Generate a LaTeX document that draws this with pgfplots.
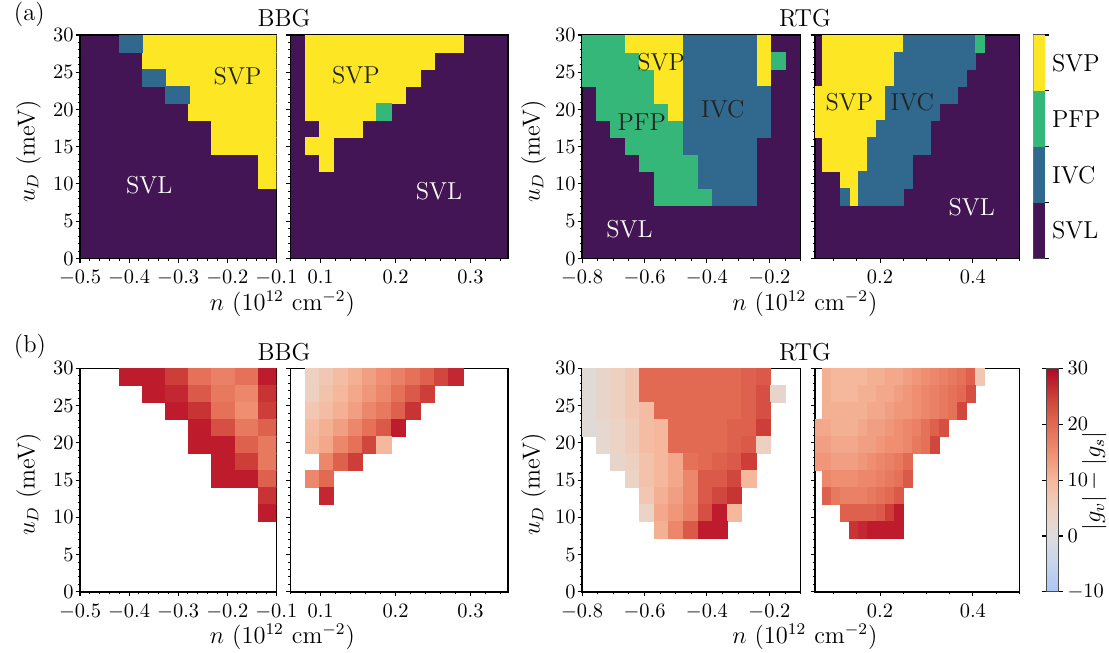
\documentclass[border=0pt]{standalone}
\usepackage{fontspec}
\usepackage{pgfplots}
\pgfplotsset{compat=1.18}

\definecolor{svl}{RGB}{68,21,84}
\definecolor{ivc}{HTML}{31688E}
\definecolor{pfp}{HTML}{35B779}
\definecolor{svp}{HTML}{FDE725}
\definecolor{txt}{HTML}{222222}

\newcommand{\lab}{\fontsize{12}{14}\selectfont}
\newcommand{\tck}{\fontsize{10}{12}\selectfont}

\pgfplotsset{
  colormap={cw}{rgb255=(172,198,245) rgb255=(198,212,238) rgb255=(221,221,221)
    rgb255=(238,208,192) rgb255=(245,184,156) rgb255=(239,142,113)
    rgb255=(226,106,83) rgb255=(205,62,56) rgb255=(180,4,38)},
  panel/.style={
    anchor=north west, scale only axis, height=109.5pt,
    ymin=0, ymax=30, ytick={0,5,...,30}, minor ytick={0,1,...,30},
    tick align=outside, tick pos=left,
    major tick length=2.2pt, minor tick length=1.2pt,
    every tick/.append style={line width=0.5pt, black},
    axis line style={line width=0.7pt},
    tick label style={font=\tck, inner sep=0.5pt},
    xticklabel style={yshift=-3.0pt},
    yticklabel style={xshift=-0.3pt},
    clip marker paths=true,
  },
  phase/.style={panel, axis background/.style={fill=svl}},
  gap/.style={panel, colormap name=cw, point meta min=-10, point meta max=30},
  bl/.style={xmin=-0.5, xmax=-0.1, width=96.2pt,
    xtick={-0.5,-0.4,-0.3,-0.2,-0.1}, minor xtick={-0.5,-0.48,...,-0.1}},
  br/.style={xmin=0.06, xmax=0.35, width=106.5pt, yticklabels={},
    xtick={0.1,0.2,0.3}, minor xtick={0.06,0.08,...,0.35}},
  rl/.style={xmin=-0.8, xmax=-0.1, width=107.1pt,
    xtick={-0.8,-0.6,-0.4,-0.2}, minor xtick={-0.8,-0.75,...,-0.1}},
  rr/.style={xmin=0.06, xmax=0.5, width=100.1pt, yticklabels={},
    xtick={0.2,0.4}, minor xtick={0.1,0.15,...,0.5}},
  cell/.style={only marks, mark=square*, mark size=4.161pt,
    mark options={xscale=#1, line width=0.25pt}},
  vcell/.style={cell=#1, scatter, point meta=explicit,
    scatter/use mapped color={draw=mapped color, fill=mapped color}},
}

\begin{document}
\begin{tikzpicture}
\useasboundingbox (0,0) rectangle (543.4pt,-319.5pt);

% ---------------- (a) BBG, n<0
\begin{axis}[phase, bl, at={(39.2pt,-17.15pt)}]
\addplot[cell=1.364, color=svp] coordinates {
(-0.350,28.86) (-0.302,28.86) (-0.255,28.86) (-0.208,28.86) (-0.161,28.86) (-0.114,28.86)
(-0.350,26.58) (-0.302,26.58) (-0.255,26.58) (-0.208,26.58) (-0.161,26.58) (-0.114,26.58)
(-0.302,24.30) (-0.255,24.30) (-0.208,24.30) (-0.161,24.30) (-0.114,24.30)
(-0.255,22.02) (-0.208,22.02) (-0.161,22.02) (-0.114,22.02)
(-0.255,19.74) (-0.208,19.74) (-0.161,19.74) (-0.114,19.74)
(-0.208,17.46) (-0.161,17.46) (-0.114,17.46)
(-0.208,15.18) (-0.161,15.18) (-0.114,15.18)
(-0.114,12.90) (-0.114,10.62)};
\addplot[cell=1.364, color=ivc] coordinates {
(-0.397,28.86) (-0.350,24.30) (-0.302,22.02)};
\node[font=\lab, text=txt] at (axis cs:-0.179,24.5) {SVP};
\node[font=\lab, text=white] at (axis cs:-0.359,9.8) {SVL};
\end{axis}

% ---------------- (a) BBG, n>0
\begin{axis}[phase, br, at={(142.4pt,-17.15pt)}]
\addplot[cell=0.847, color=svp] coordinates {
(0.0885,28.86) (0.1077,28.86) (0.1269,28.86) (0.1461,28.86) (0.1653,28.86) (0.1845,28.86)
(0.2037,28.86) (0.2229,28.86) (0.2421,28.86) (0.2613,28.86) (0.2805,28.86)
(0.0885,26.58) (0.1077,26.58) (0.1269,26.58) (0.1461,26.58) (0.1653,26.58) (0.1845,26.58)
(0.2037,26.58) (0.2229,26.58) (0.2421,26.58)
(0.0885,24.30) (0.1077,24.30) (0.1269,24.30) (0.1461,24.30) (0.1653,24.30) (0.1845,24.30)
(0.2037,24.30) (0.2229,24.30)
(0.0885,22.02) (0.1077,22.02) (0.1269,22.02) (0.1461,22.02) (0.1653,22.02) (0.1845,22.02)
(0.2037,22.02)
(0.0885,19.74) (0.1077,19.74) (0.1269,19.74) (0.1461,19.74) (0.1653,19.74)
(0.1077,17.46) (0.1269,17.46) (0.1461,17.46)
(0.0885,15.18) (0.1077,15.18)
(0.1077,12.90)};
\addplot[cell=0.847, color=pfp] coordinates {(0.1845,19.74)};
\node[font=\lab, text=txt] at (axis cs:0.147,24.6) {SVP};
\node[font=\lab, text=white] at (axis cs:0.258,9.0) {SVL};
\end{axis}

% ---------------- (a) RTG, n<0
\begin{axis}[phase, rl, at={(285.2pt,-17.15pt)}]
\addplot[cell=0.857, color=pfp] coordinates {
(-0.7787,28.86) (-0.7321,28.86) (-0.6855,28.86)
(-0.7787,26.58) (-0.7321,26.58) (-0.6855,26.58) (-0.6389,26.58) (-0.1729,26.58)
(-0.7787,24.30) (-0.7321,24.30) (-0.6855,24.30) (-0.6389,24.30) (-0.5923,24.30)
(-0.7321,22.02) (-0.6855,22.02) (-0.6389,22.02) (-0.5923,22.02)
(-0.7321,19.74) (-0.6855,19.74) (-0.6389,19.74) (-0.5923,19.74) (-0.5457,19.74)
(-0.6855,17.46) (-0.6389,17.46) (-0.5923,17.46) (-0.5457,17.46) (-0.4991,17.46)
(-0.6389,15.18) (-0.5923,15.18) (-0.5457,15.18) (-0.4991,15.18)
(-0.5923,12.90) (-0.5457,12.90) (-0.4991,12.90) (-0.4525,12.90)
(-0.5457,10.62) (-0.4991,10.62) (-0.4525,10.62)
(-0.5457,8.34) (-0.4991,8.34) (-0.4525,8.34) (-0.4059,8.34)};
\addplot[cell=0.857, color=svp] coordinates {
(-0.6389,28.86) (-0.5923,28.86) (-0.5457,28.86) (-0.4991,28.86) (-0.2195,28.86)
(-0.5923,26.58) (-0.5457,26.58) (-0.4991,26.58) (-0.2195,26.58)
(-0.5457,24.30) (-0.4991,24.30) (-0.2195,24.30)
(-0.5457,22.02) (-0.4991,22.02)
(-0.4991,19.74)};
\addplot[cell=0.857, color=ivc] coordinates {
(-0.4525,28.86) (-0.4059,28.86) (-0.3593,28.86) (-0.3127,28.86) (-0.2661,28.86)
(-0.4525,26.58) (-0.4059,26.58) (-0.3593,26.58) (-0.3127,26.58) (-0.2661,26.58)
(-0.4525,24.30) (-0.4059,24.30) (-0.3593,24.30) (-0.3127,24.30) (-0.2661,24.30)
(-0.4525,22.02) (-0.4059,22.02) (-0.3593,22.02) (-0.3127,22.02) (-0.2661,22.02) (-0.2195,22.02)
(-0.4525,19.74) (-0.4059,19.74) (-0.3593,19.74) (-0.3127,19.74) (-0.2661,19.74) (-0.2195,19.74)
(-0.4525,17.46) (-0.4059,17.46) (-0.3593,17.46) (-0.3127,17.46) (-0.2661,17.46) (-0.2195,17.46)
(-0.4525,15.18) (-0.4059,15.18) (-0.3593,15.18) (-0.3127,15.18) (-0.2661,15.18)
(-0.4059,12.90) (-0.3593,12.90) (-0.3127,12.90) (-0.2661,12.90)
(-0.4059,10.62) (-0.3593,10.62) (-0.3127,10.62) (-0.2661,10.62)
(-0.3593,8.34) (-0.3127,8.34) (-0.2661,8.34)};
\node[font=\lab, text=txt] at (axis cs:-0.547,26.4) {SVP};
\node[font=\lab, text=txt] at (axis cs:-0.609,18.25) {PFP};
\node[font=\lab, text=txt] at (axis cs:-0.349,20.1) {IVC};
\node[font=\lab, text=white] at (axis cs:-0.648,3.9) {SVL};
\end{axis}

% ---------------- (a) RTG, n>0
\begin{axis}[phase, rr, at={(399.35pt,-17.15pt)}]
\addplot[cell=0.528, color=svp] coordinates {
(0.0860,28.86) (0.1053,28.86) (0.1246,28.86) (0.1439,28.86) (0.1632,28.86) (0.1825,28.86)
(0.2018,28.86) (0.2211,28.86) (0.2404,28.86)
(0.0860,26.58) (0.1053,26.58) (0.1246,26.58) (0.1439,26.58) (0.1632,26.58) (0.1825,26.58)
(0.2018,26.58) (0.2211,26.58)
(0.0860,24.30) (0.1053,24.30) (0.1246,24.30) (0.1439,24.30) (0.1632,24.30) (0.1825,24.30)
(0.2018,24.30) (0.2211,24.30)
(0.0667,22.02) (0.0860,22.02) (0.1053,22.02) (0.1246,22.02) (0.1439,22.02) (0.1632,22.02)
(0.1825,22.02) (0.2018,22.02)
(0.0667,19.74) (0.0860,19.74) (0.1053,19.74) (0.1246,19.74) (0.1439,19.74) (0.1632,19.74)
(0.1825,19.74) (0.2018,19.74)
(0.0667,17.46) (0.0860,17.46) (0.1053,17.46) (0.1246,17.46) (0.1439,17.46) (0.1632,17.46)
(0.1825,17.46)
(0.0860,15.18) (0.1053,15.18) (0.1246,15.18) (0.1439,15.18) (0.1632,15.18)
(0.0860,12.90) (0.1053,12.90) (0.1246,12.90) (0.1439,12.90) (0.1632,12.90)
(0.1246,10.62) (0.1439,10.62)
(0.1439,8.34)};
\addplot[cell=0.528, color=ivc] coordinates {
(0.2597,28.86) (0.2790,28.86) (0.2983,28.86) (0.3176,28.86) (0.3369,28.86) (0.3562,28.86)
(0.3755,28.86) (0.3948,28.86)
(0.2404,26.58) (0.2597,26.58) (0.2790,26.58) (0.2983,26.58) (0.3176,26.58) (0.3369,26.58)
(0.3562,26.58) (0.3755,26.58) (0.3948,26.58)
(0.2404,24.30) (0.2597,24.30) (0.2790,24.30) (0.2983,24.30) (0.3176,24.30) (0.3369,24.30)
(0.3562,24.30) (0.3755,24.30)
(0.2211,22.02) (0.2404,22.02) (0.2597,22.02) (0.2790,22.02) (0.2983,22.02) (0.3176,22.02)
(0.3369,22.02) (0.3562,22.02)
(0.2211,19.74) (0.2404,19.74) (0.2597,19.74) (0.2790,19.74) (0.2983,19.74) (0.3176,19.74)
(0.2018,17.46) (0.2211,17.46) (0.2404,17.46) (0.2597,17.46) (0.2790,17.46) (0.2983,17.46)
(0.1825,15.18) (0.2018,15.18) (0.2211,15.18) (0.2404,15.18) (0.2597,15.18) (0.2790,15.18)
(0.2983,15.18)
(0.1825,12.90) (0.2018,12.90) (0.2211,12.90) (0.2404,12.90) (0.2597,12.90)
(0.1632,10.62) (0.1825,10.62) (0.2018,10.62) (0.2211,10.62) (0.2404,10.62) (0.2597,10.62)
(0.1246,8.34) (0.1632,8.34) (0.1825,8.34) (0.2018,8.34) (0.2211,8.34) (0.2404,8.34)};
\addplot[cell=0.528, color=pfp] coordinates {(0.4141,28.86)};
\node[font=\lab, text=txt] at (axis cs:0.134,21.0) {SVP};
\node[font=\lab, text=txt] at (axis cs:0.2696,21.0) {IVC};
\node[font=\lab, text=white] at (axis cs:0.3975,6.9) {SVL};
\end{axis}

% ---------------- (a) colour key
\begin{axis}[at={(506.3pt,-17.15pt)}, anchor=north west, scale only axis,
  width=5.7pt, height=109.5pt, xmin=0, xmax=1, ymin=0, ymax=4,
  xtick=\empty, ytick={0,1,2,3,4}, yticklabels={},
  extra y ticks={0.5,1.5,2.5,3.5}, extra y tick labels={SVL,IVC,PFP,SVP},
  extra y tick style={major tick length=0pt},
  ytick pos=right, yticklabel pos=right, tick align=outside,
  major tick length=2.2pt, every tick/.append style={line width=0.5pt, black},
  tick label style={font=\lab},
  axis line style={line width=0.5pt, black!70}]
\addplot[fill=svp, draw=none] coordinates {(0,4) (1,4)} \closedcycle;
\addplot[fill=pfp, draw=none] coordinates {(0,3) (1,3)} \closedcycle;
\addplot[fill=ivc, draw=none] coordinates {(0,2) (1,2)} \closedcycle;
\addplot[fill=svl, draw=none] coordinates {(0,1) (1,1)} \closedcycle;
\end{axis}

% ---------------- (b) BBG, n<0
\begin{axis}[gap, bl, at={(39.2pt,-180.5pt)}]
\addplot[vcell=1.364] coordinates {
(-0.397,28.86)[28] (-0.350,28.86)[28] (-0.302,28.86)[25] (-0.255,28.86)[19]
(-0.208,28.86)[17] (-0.161,28.86)[19] (-0.114,28.86)[28]
(-0.350,26.58)[28] (-0.302,26.58)[27] (-0.255,26.58)[22] (-0.208,26.58)[18]
(-0.161,26.58)[16] (-0.114,26.58)[26]
(-0.302,24.30)[28] (-0.255,24.30)[26] (-0.208,24.30)[19] (-0.161,24.30)[15] (-0.114,24.30)[25]
(-0.255,22.02)[28] (-0.208,22.02)[23] (-0.161,22.02)[18] (-0.114,22.02)[21]
(-0.255,19.74)[28] (-0.208,19.74)[28] (-0.161,19.74)[21] (-0.114,19.74)[18]
(-0.208,17.46)[28] (-0.161,17.46)[25] (-0.114,17.46)[18]
(-0.208,15.18)[28] (-0.161,15.18)[28] (-0.114,15.18)[21]
(-0.114,12.90)[26] (-0.114,10.62)[28]};
\end{axis}

% ---------------- (b) BBG, n>0
\begin{axis}[gap, br, at={(142.4pt,-180.5pt)}]
\addplot[vcell=0.847] coordinates {
(0.0885,28.86)[5] (0.1077,28.86)[7] (0.1269,28.86)[9] (0.1461,28.86)[11] (0.1653,28.86)[13]
(0.1845,28.86)[15] (0.2037,28.86)[17] (0.2229,28.86)[19] (0.2421,28.86)[21] (0.2613,28.86)[24]
(0.2805,28.86)[27]
(0.0885,26.58)[5] (0.1077,26.58)[8] (0.1269,26.58)[10] (0.1461,26.58)[12] (0.1653,26.58)[14]
(0.1845,26.58)[16] (0.2037,26.58)[19] (0.2229,26.58)[22] (0.2421,26.58)[25]
(0.0885,24.30)[7] (0.1077,24.30)[9] (0.1269,24.30)[11] (0.1461,24.30)[13] (0.1653,24.30)[16]
(0.1845,24.30)[18] (0.2037,24.30)[21] (0.2229,24.30)[26]
(0.0885,22.02)[9] (0.1077,22.02)[11] (0.1269,22.02)[13] (0.1461,22.02)[16] (0.1653,22.02)[19]
(0.1845,22.02)[22] (0.2037,22.02)[28]
(0.0885,19.74)[10] (0.1077,19.74)[12] (0.1269,19.74)[16] (0.1461,19.74)[19] (0.1653,19.74)[24]
(0.1845,19.74)[10]
(0.1077,17.46)[16] (0.1269,17.46)[21] (0.1461,17.46)[25]
(0.0885,15.18)[16] (0.1077,15.18)[20]
(0.1077,12.90)[27]};
\end{axis}

% ---------------- (b) RTG, n<0
\begin{axis}[gap, rl, at={(285.2pt,-180.5pt)}]
\addplot[vcell=0.857] coordinates {
(-0.7787,28.86)[1] (-0.7321,28.86)[3] (-0.6855,28.86)[5] (-0.6389,28.86)[7] (-0.5923,28.86)[20]
(-0.5457,28.86)[20] (-0.4991,28.86)[20] (-0.4525,28.86)[20] (-0.4059,28.86)[20] (-0.3593,28.86)[20]
(-0.3127,28.86)[20] (-0.2661,28.86)[21] (-0.2195,28.86)[22]
(-0.7787,26.58)[1] (-0.7321,26.58)[3] (-0.6855,26.58)[5] (-0.6389,26.58)[7] (-0.5923,26.58)[20]
(-0.5457,26.58)[20] (-0.4991,26.58)[20] (-0.4525,26.58)[20] (-0.4059,26.58)[20] (-0.3593,26.58)[20]
(-0.3127,26.58)[20] (-0.2661,26.58)[21] (-0.2195,26.58)[23] (-0.1729,26.58)[3]
(-0.7787,24.30)[1] (-0.7321,24.30)[3] (-0.6855,24.30)[5] (-0.6389,24.30)[7] (-0.5923,24.30)[9]
(-0.5457,24.30)[20] (-0.4991,24.30)[20] (-0.4525,24.30)[20] (-0.4059,24.30)[20] (-0.3593,24.30)[20]
(-0.3127,24.30)[20] (-0.2661,24.30)[21] (-0.2195,24.30)[23]
(-0.7787,22.02)[1] (-0.7321,22.02)[2] (-0.6855,22.02)[4] (-0.6389,22.02)[6] (-0.5923,22.02)[9]
(-0.5457,22.02)[10] (-0.4991,22.02)[20] (-0.4525,22.02)[20] (-0.4059,22.02)[20] (-0.3593,22.02)[20]
(-0.3127,22.02)[21] (-0.2661,22.02)[21] (-0.2195,22.02)[25]
(-0.7321,19.74)[2] (-0.6855,19.74)[4] (-0.6389,19.74)[6] (-0.5923,19.74)[9] (-0.5457,19.74)[10]
(-0.4991,19.74)[20] (-0.4525,19.74)[20] (-0.4059,19.74)[20] (-0.3593,19.74)[20] (-0.3127,19.74)[21]
(-0.2661,19.74)[22] (-0.2195,19.74)[5]
(-0.6855,17.46)[3] (-0.6389,17.46)[5] (-0.5923,17.46)[8] (-0.5457,17.46)[10] (-0.4991,17.46)[12]
(-0.4525,17.46)[19] (-0.4059,17.46)[20] (-0.3593,17.46)[21] (-0.3127,17.46)[22] (-0.2661,17.46)[25]
(-0.6389,15.18)[4] (-0.5923,15.18)[8] (-0.5457,15.18)[10] (-0.4991,15.18)[12] (-0.4525,15.18)[16]
(-0.4059,15.18)[22] (-0.3593,15.18)[22] (-0.3127,15.18)[24] (-0.2661,15.18)[10]
(-0.5923,12.90)[7] (-0.5457,12.90)[11] (-0.4991,12.90)[13] (-0.4525,12.90)[16] (-0.4059,12.90)[22]
(-0.3593,12.90)[24] (-0.3127,12.90)[26]
(-0.5923,10.62)[4] (-0.5457,10.62)[12] (-0.4991,10.62)[14] (-0.4525,10.62)[17] (-0.4059,10.62)[23]
(-0.3593,10.62)[28] (-0.3127,10.62)[10]
(-0.5457,8.34)[11] (-0.4991,8.34)[16] (-0.4525,8.34)[22] (-0.4059,8.34)[28] (-0.3593,8.34)[28]};
\end{axis}

% ---------------- (b) RTG, n>0
\begin{axis}[gap, rr, at={(399.35pt,-180.5pt)},
  colorbar,
  colorbar style={at={(parent axis.north east)}, anchor=north west, xshift=4.9pt,
    scale only axis, width=5.7pt, height=109.5pt,
    ytick={-10,0,10,20,30}, tick align=outside, major tick length=2.2pt,
    every tick/.append style={line width=0.5pt, black},
    yticklabel style={font=\tck, inner sep=0.5pt, xshift=1.6pt},
    axis line style={line width=0.5pt, black!70}}]
\addplot[vcell=0.528] coordinates {
(0.0860,28.86)[11] (0.1053,28.86)[10] (0.1246,28.86)[10] (0.1439,28.86)[10] (0.1632,28.86)[10]
(0.1825,28.86)[11] (0.2018,28.86)[11] (0.2211,28.86)[12] (0.2404,28.86)[12] (0.2597,28.86)[13]
(0.2790,28.86)[14] (0.2983,28.86)[15] (0.3176,28.86)[16] (0.3369,28.86)[17] (0.3562,28.86)[18]
(0.3755,28.86)[19] (0.3948,28.86)[21] (0.4141,28.86)[7]
(0.0860,26.58)[11] (0.1053,26.58)[10] (0.1246,26.58)[10] (0.1439,26.58)[10] (0.1632,26.58)[11]
(0.1825,26.58)[11] (0.2018,26.58)[12] (0.2211,26.58)[12] (0.2404,26.58)[13] (0.2597,26.58)[14]
(0.2790,26.58)[15] (0.2983,26.58)[16] (0.3176,26.58)[17] (0.3369,26.58)[18] (0.3562,26.58)[19]
(0.3755,26.58)[20] (0.3948,26.58)[23]
(0.0860,24.30)[11] (0.1053,24.30)[11] (0.1246,24.30)[11] (0.1439,24.30)[11] (0.1632,24.30)[11]
(0.1825,24.30)[12] (0.2018,24.30)[12] (0.2211,24.30)[13] (0.2404,24.30)[14] (0.2597,24.30)[14]
(0.2790,24.30)[15] (0.2983,24.30)[16] (0.3176,24.30)[17] (0.3369,24.30)[18] (0.3562,24.30)[19]
(0.3755,24.30)[24]
(0.0667,22.02)[12] (0.0860,22.02)[12] (0.1053,22.02)[11] (0.1246,22.02)[11] (0.1439,22.02)[11]
(0.1632,22.02)[12] (0.1825,22.02)[13] (0.2018,22.02)[13] (0.2211,22.02)[14] (0.2404,22.02)[15]
(0.2597,22.02)[16] (0.2790,22.02)[17] (0.2983,22.02)[19] (0.3176,22.02)[21] (0.3369,22.02)[23]
(0.0667,19.74)[13] (0.0860,19.74)[13] (0.1053,19.74)[12] (0.1246,19.74)[12] (0.1439,19.74)[12]
(0.1632,19.74)[13] (0.1825,19.74)[13] (0.2018,19.74)[14] (0.2211,19.74)[15] (0.2404,19.74)[15]
(0.2597,19.74)[16] (0.2790,19.74)[18] (0.2983,19.74)[19] (0.3176,19.74)[24]
(0.0667,17.46)[14] (0.0860,17.46)[14] (0.1053,17.46)[13] (0.1246,17.46)[13] (0.1439,17.46)[13]
(0.1632,17.46)[14] (0.1825,17.46)[15] (0.2018,17.46)[16] (0.2211,17.46)[17] (0.2404,17.46)[18]
(0.2597,17.46)[20]
(0.0860,15.18)[16] (0.1053,15.18)[15] (0.1246,15.18)[15] (0.1439,15.18)[15] (0.1632,15.18)[16]
(0.1825,15.18)[16] (0.2018,15.18)[17] (0.2211,15.18)[18] (0.2404,15.18)[19] (0.2597,15.18)[22]
(0.0860,12.90)[21] (0.1053,12.90)[18] (0.1246,12.90)[17] (0.1439,12.90)[17] (0.1632,12.90)[17]
(0.1825,12.90)[18] (0.2018,12.90)[19] (0.2211,12.90)[20] (0.2404,12.90)[22]
(0.1246,10.62)[21] (0.1439,10.62)[21] (0.1632,10.62)[21] (0.1825,10.62)[21] (0.2018,10.62)[22]
(0.2211,10.62)[25] (0.2404,10.62)[28]
(0.1439,8.34)[26] (0.1632,8.34)[27] (0.1825,8.34)[28] (0.2018,8.34)[28] (0.2211,8.34)[28]
(0.2404,8.34)[28]};
\end{axis}

% ---------------- texts outside the axes
\node[anchor=base west, font=\lab] at (3.3pt,-9.8pt) {(a)};
\node[anchor=base west, font=\lab] at (3.3pt,-172.5pt) {(b)};
\node[anchor=base, font=\lab] at (139.2pt,-13.1pt) {BBG};
\node[anchor=base, font=\lab] at (394.4pt,-13.1pt) {RTG};
\node[anchor=base, font=\lab] at (139.2pt,-176.4pt) {BBG};
\node[anchor=base, font=\lab] at (394.4pt,-176.4pt) {RTG};
\node[anchor=base, font=\lab] at (138.4pt,-151.9pt) {$n$ ($10^{12}$ cm$^{-2}$)};
\node[anchor=base, font=\lab] at (394.4pt,-151.9pt) {$n$ ($10^{12}$ cm$^{-2}$)};
\node[anchor=base, font=\lab] at (138.4pt,-315.1pt) {$n$ ($10^{12}$ cm$^{-2}$)};
\node[anchor=base, font=\lab] at (394.4pt,-315.1pt) {$n$ ($10^{12}$ cm$^{-2}$)};
\node[rotate=90, font=\lab] at (14.0pt,-74.2pt) {$u_D$ (meV)};
\node[rotate=90, font=\lab] at (14.0pt,-237.4pt) {$u_D$ (meV)};
\node[rotate=90, font=\lab] at (261.4pt,-74.2pt) {$u_D$ (meV)};
\node[rotate=90, font=\lab] at (261.4pt,-237.4pt) {$u_D$ (meV)};
\node[rotate=90, font=\lab, inner sep=0pt] at (536.2pt,-235.7pt) {$|g_v|-|g_s|$};
\end{tikzpicture}
\end{document}
